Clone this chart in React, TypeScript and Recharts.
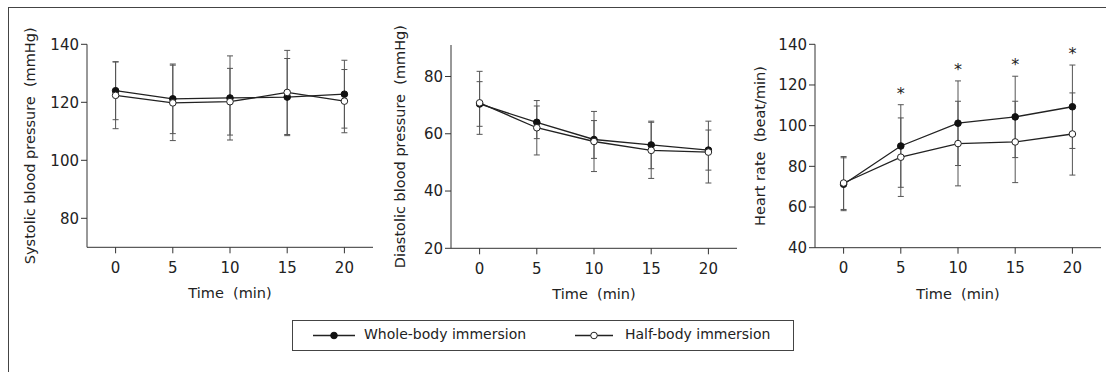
import React from 'react';
import { LineChart, Line, XAxis, YAxis, ErrorBar, LabelList, Label } from 'recharts';

const FONT = '"DejaVu Sans", Verdana, sans-serif';
const INK = '#222';
const AXIS = '#333';
const BAR = '#555';

// time points (min)
const times = [0, 5, 10, 15, 20];
const timeTicks = [0, 5, 10, 15, 20];

// systolic blood pressure (mmHg)
const sbpWhole = [124, 121.2, 121.5, 121.8, 122.8];
const sbpWholeSd = [10, 12, 14.5, 13.3, 11.7];
const sbpHalf = [122.4, 119.8, 120.2, 123.4, 120.4];
const sbpHalfSd = [11.5, 13, 11.5, 14.5, 10.9];
const sbpTicks = [80, 100, 120, 140];

// diastolic blood pressure (mmHg)
const dbpWhole = [70.4, 64, 58, 56.1, 54.3];
const dbpWholeSd = [7.8, 5.7, 6.6, 8.3, 7];
const dbpHalf = [70.8, 62.1, 57.3, 54.2, 53.6];
const dbpHalfSd = [11, 9.5, 10.5, 9.8, 10.8];
const dbpTicks = [20, 40, 60, 80];

// heart rate (beat/min)
const hrWhole = [71.2, 90, 101.2, 104.3, 109.3];
const hrWholeSd = [13, 20.3, 20.8, 20, 20.5];
const hrHalf = [71.8, 84.5, 91.2, 92, 95.9];
const hrHalfSd = [13, 19.3, 20.8, 20, 20.2];
const hrSignificant = [false, true, true, true, true];
const hrTicks = [40, 60, 80, 100, 120, 140];

const buildRows = (whole: number[], wholeSd: number[], half: number[], halfSd: number[], sig?: boolean[]) =>
  times.map((t, i) => ({
    t,
    whole: whole[i],
    wholeSd: wholeSd[i],
    half: half[i],
    halfSd: halfSd[i],
    // asterisk sits above the whole-body error bar
    star: sig && sig[i] ? whole[i] + wholeSd[i] : null,
  }));

const StarLabel = (props: any) => {
  const { x, y, value } = props;
  if (value === null || value === undefined || x == null || y == null) return null;
  return (
    <text x={x} y={y - 6} textAnchor="middle" fontSize={16} fill={INK} fontFamily={FONT}>
      *
    </text>
  );
};

interface PanelProps {
  left: number;
  plotTop: number;
  plotHeight: number;
  data: any[];
  domain: [number, number];
  ticks: number[];
  title: string;
  titleOffset: number;
}

const Panel: React.FC<PanelProps> = ({ left, plotTop, plotHeight, data, domain, ticks, title, titleOffset }) => {
  const h = 310;
  return (
    <div style={{ position: 'absolute', left, top: 0 }}>
      <LineChart
        width={370}
        height={h}
        data={data}
        margin={{ top: plotTop, right: 4, left: 0, bottom: h - plotTop - plotHeight - 55 }}
      >
        <XAxis
          dataKey="t"
          type="number"
          domain={[-2.5, 22.5]}
          ticks={timeTicks}
          allowDataOverflow
          height={55}
          tickSize={6}
          tickMargin={9}
          stroke={AXIS}
          tick={{ fontSize: 15, fill: INK, fontFamily: FONT }}
        >
          <Label value={'Time\u00A0 (min)'} position="insideBottom" offset={4} style={{ fontSize: 14.5, fill: INK, fontFamily: FONT }} />
        </XAxis>
        <YAxis
          type="number"
          domain={domain}
          ticks={ticks}
          allowDataOverflow
          width={80}
          tickSize={6}
          tickMargin={2}
          stroke={AXIS}
          tick={{ fontSize: 15, fill: INK, fontFamily: FONT }}
          label={{
            value: title,
            angle: -90,
            position: 'insideLeft',
            offset: titleOffset,
            style: { textAnchor: 'middle', fontSize: 14.5, fill: INK, fontFamily: FONT },
          }}
        />
        <Line
          dataKey="whole"
          stroke={INK}
          strokeWidth={1.3}
          dot={{ r: 3.3, fill: '#111', stroke: '#111', strokeWidth: 1 }}
          activeDot={false}
          isAnimationActive={false}
        >
          <ErrorBar dataKey="wholeSd" direction="y" width={3} stroke={BAR} strokeWidth={1} />
        </Line>
        <Line
          dataKey="half"
          stroke={INK}
          strokeWidth={1.3}
          dot={{ r: 3.3, fill: '#fff', stroke: INK, strokeWidth: 1 }}
          activeDot={false}
          isAnimationActive={false}
        >
          <ErrorBar dataKey="halfSd" direction="y" width={3} stroke={BAR} strokeWidth={1} />
        </Line>
        <Line dataKey="star" stroke="none" dot={false} activeDot={false} isAnimationActive={false}>
          <LabelList dataKey="star" content={<StarLabel />} />
        </Line>
      </LineChart>
    </div>
  );
};

const LegendBox = () => (
  <div
    style={{
      position: 'absolute',
      left: 292,
      top: 320,
      width: 500,
      height: 29,
      border: '1px solid #444',
      fontFamily: FONT,
      fontSize: 14,
      color: INK,
    }}
  >
    <svg width={500} height={29} style={{ position: 'absolute', left: 0, top: 0 }}>
      <line x1={20} y1={14.5} x2={62} y2={14.5} stroke={INK} strokeWidth={1.3} />
      <circle cx={41} cy={14.5} r={3.3} fill="#111" stroke="#111" />
      <line x1={282} y1={14.5} x2={320} y2={14.5} stroke={INK} strokeWidth={1.3} />
      <circle cx={301} cy={14.5} r={3.3} fill="#fff" stroke={INK} />
    </svg>
    <span style={{ position: 'absolute', left: 71, top: 5, whiteSpace: 'nowrap' }}>Whole-body immersion</span>
    <span style={{ position: 'absolute', left: 332, top: 5, whiteSpace: 'nowrap' }}>Half-body immersion</span>
  </div>
);

export default function App() {
  const sbpRows = buildRows(sbpWhole, sbpWholeSd, sbpHalf, sbpHalfSd);
  const dbpRows = buildRows(dbpWhole, dbpWholeSd, dbpHalf, dbpHalfSd);
  const hrRows = buildRows(hrWhole, hrWholeSd, hrHalf, hrHalfSd, hrSignificant);

  return (
    <div style={{ position: 'absolute', left: 0, top: 0, width: 1106, height: 372, background: '#fff', overflow: 'hidden' }}>
      {/* outer frame: only left and top edges are visible */}
      <div
        style={{
          position: 'absolute',
          left: 8,
          top: 7,
          width: 1110,
          height: 380,
          borderLeft: '1px solid #444',
          borderTop: '1px solid #444',
        }}
      />
      <Panel
        left={6.7}
        plotTop={44.3}
        plotHeight={203}
        data={sbpRows}
        domain={[70, 140]}
        ticks={sbpTicks}
        title={'Systolic blood pressure\u00A0 (mmHg)'}
        titleOffset={23.3}
      />
      <Panel
        left={370.7}
        plotTop={45}
        plotHeight={203.3}
        data={dbpRows}
        domain={[20, 91]}
        ticks={dbpTicks}
        title={'Diastolic blood pressure\u00A0 (mmHg)'}
        titleOffset={29.3}
      />
      <Panel
        left={735.3}
        plotTop={44.3}
        plotHeight={203.4}
        data={hrRows}
        domain={[40, 140]}
        ticks={hrTicks}
        title={'Heart rate\u00A0 (beat/min)'}
        titleOffset={24.7}
      />
      <LegendBox />
    </div>
  );
}
